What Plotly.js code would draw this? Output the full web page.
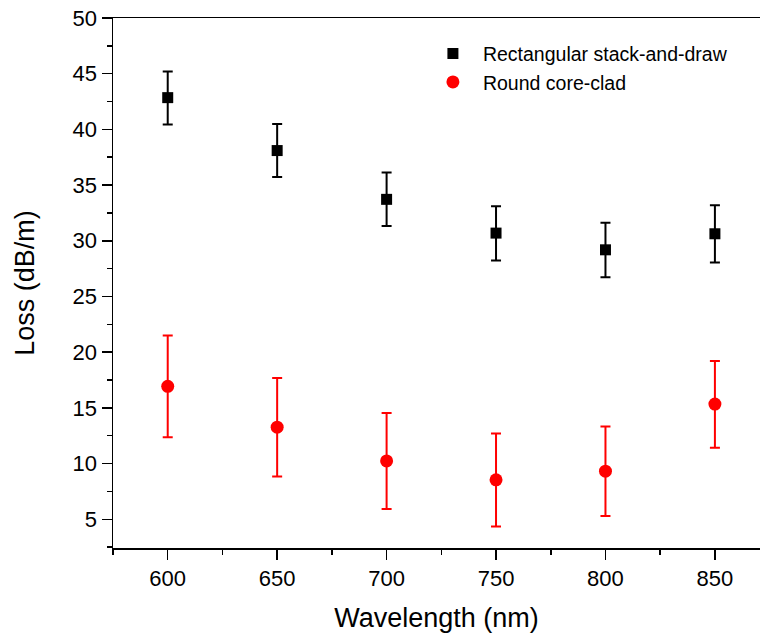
<!DOCTYPE html>
<html>
<head>
<meta charset="utf-8">
<script src="https://cdn.plot.ly/plotly-3.0.1.min.js"></script>
<style>html,body{margin:0;padding:0;background:#fff;}#chart{width:760px;height:635px;}</style>
</head>
<body>
<div id="chart"></div>
<script>
const wavelengths = [600, 650, 700, 750, 800, 850];
const rectLoss = [42.85, 38.1, 33.72, 30.69, 29.19, 30.63];
const rectErrPlus = [2.35, 2.38, 2.42, 2.4, 2.43, 2.55];
const rectErrMinus = [2.42, 2.37, 2.4, 2.46, 2.46, 2.58];
const roundLoss = [16.93, 13.27, 10.24, 8.54, 9.32, 15.34];
const roundErrPlus = [4.56, 4.41, 4.29, 4.16, 4.01, 3.87];
const roundErrMinus = [4.56, 4.44, 4.31, 4.2, 4.02, 3.93];
const xTicks = [600, 650, 700, 750, 800, 850];
const yTicks = [5, 10, 15, 20, 25, 30, 35, 40, 45, 50];

const FONT = 'Liberation Sans, Arial, sans-serif';

const traces = [
  {
    x: wavelengths, y: rectLoss, type: 'scatter', mode: 'markers',
    name: 'Rectangular stack-and-draw',
    marker: {symbol: 'square', size: 11, color: '#000000'},
    error_y: {type: 'data', symmetric: false, array: rectErrPlus, arrayminus: rectErrMinus,
              color: '#000000', thickness: 2, width: 5}
  },
  {
    x: wavelengths, y: roundLoss, type: 'scatter', mode: 'markers',
    name: 'Round core-clad',
    marker: {symbol: 'circle', size: 13, color: '#ff0000'},
    error_y: {type: 'data', symmetric: false, array: roundErrPlus, arrayminus: roundErrMinus,
              color: '#ff0000', thickness: 2, width: 5}
  }
];

const layout = {
  width: 760, height: 635,
  margin: {l: 113, r: 0, t: 18, b: 87},
  paper_bgcolor: '#ffffff', plot_bgcolor: '#ffffff',
  font: {family: FONT, color: '#000000'},
  showlegend: true,
  legend: {x: 0.479, y: 0.969, xanchor: 'left', yanchor: 'top',
           font: {family: FONT, size: 19.5, color: '#000'}, bgcolor: 'rgba(0,0,0,0)',
           tracegroupgap: 0, itemwidth: 50},
  xaxis: {
    range: [575, 870.6], showgrid: false, zeroline: false,
    showline: true, linecolor: '#000', linewidth: 1.5, mirror: true,
    ticks: 'outside', ticklen: 10, tickwidth: 1.5, tickcolor: '#000',
    tickvals: xTicks, ticktext: xTicks.map(String),
    tickfont: {family: FONT, size: 22, color: '#000'},
    minor: {ticks: 'outside', ticklen: 5, tickwidth: 1.5, tickcolor: '#000', dtick: 25, tick0: 575},
    title: {text: 'Wavelength (nm)', font: {family: FONT, size: 27, color: '#000'}, standoff: 18}
  },
  yaxis: {
    range: [2.42, 50], showgrid: false, zeroline: false,
    showline: true, linecolor: '#000', linewidth: 1.5,
    ticks: 'outside', ticklen: 10, tickwidth: 1.5, tickcolor: '#000',
    tickvals: yTicks, ticktext: yTicks.map(String),
    tickfont: {family: FONT, size: 22, color: '#000'},
    minor: {ticks: 'outside', ticklen: 5, tickwidth: 1.5, tickcolor: '#000', dtick: 2.5, tick0: 2.5},
    title: {text: 'Loss (dB/m)', font: {family: FONT, size: 27, color: '#000'}, standoff: 30}
  }
};

Plotly.newPlot('chart', traces, layout, {displayModeBar: false, staticPlot: true});
</script>
</body>
</html>
